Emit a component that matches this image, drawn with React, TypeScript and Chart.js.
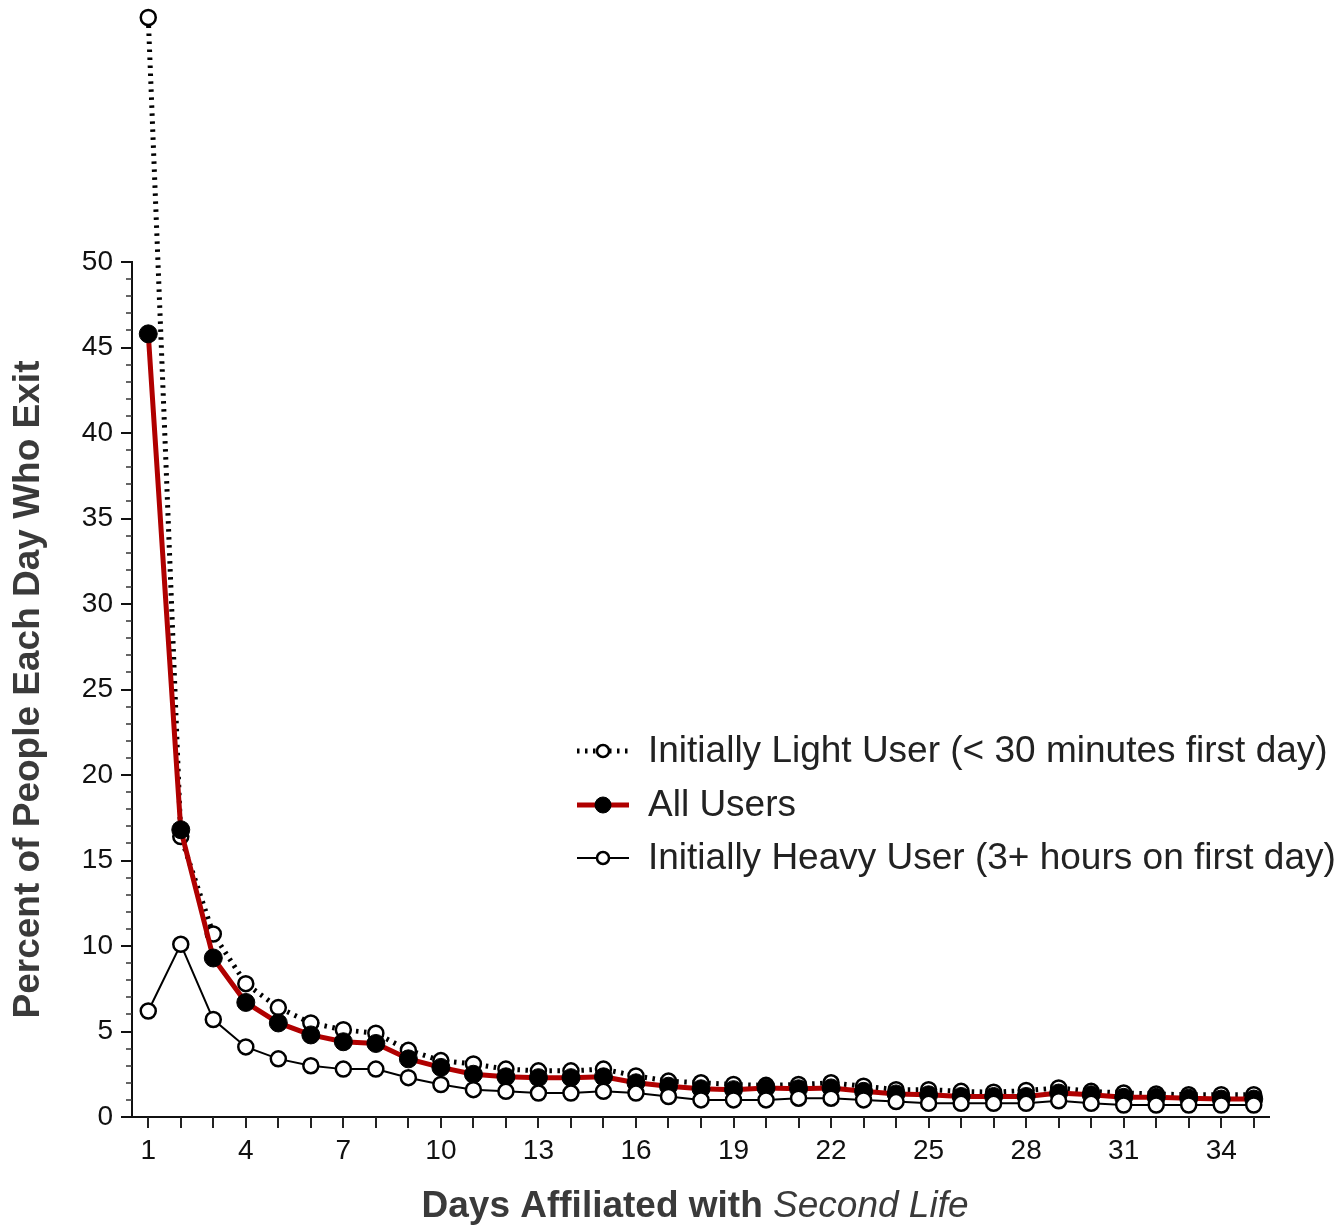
import { useEffect, useRef } from "react";
import { Chart, registerables } from "chart.js";

Chart.register(...registerables);

const FONT = '"Liberation Sans", Arial, Helvetica, sans-serif';

const days = [
  "1", "2", "3", "4", "5", "6", "7", "8", "9", "10",
  "11", "12", "13", "14", "15", "16", "17", "18", "19", "20",
  "21", "22", "23", "24", "25", "26", "27", "28", "29", "30",
  "31", "32", "33", "34", "35",
];

const xTickLabels = ["1", "4", "7", "10", "13", "16", "19", "22", "25", "28", "31", "34"];
const yTickLabels = [0, 5, 10, 15, 20, 25, 30, 35, 40, 45, 50];

const lightUser = [
  64.3, 16.4, 10.7, 7.8, 6.4, 5.5, 5.1, 4.9, 3.9, 3.3,
  3.1, 2.8, 2.7, 2.7, 2.8, 2.4, 2.1, 2.0, 1.9, 1.85,
  1.9, 2.0, 1.8, 1.6, 1.6, 1.5, 1.45, 1.55, 1.7, 1.5,
  1.4, 1.35, 1.3, 1.3, 1.3,
];

const allUsers = [
  45.8, 16.8, 9.3, 6.7, 5.5, 4.8, 4.4, 4.3, 3.4, 2.9,
  2.5, 2.35, 2.3, 2.3, 2.35, 2.0, 1.8, 1.65, 1.6, 1.7,
  1.65, 1.7, 1.5, 1.35, 1.3, 1.2, 1.2, 1.2, 1.4, 1.3,
  1.15, 1.15, 1.1, 1.05, 1.05,
];

const heavyUser = [
  6.2, 10.1, 5.7, 4.1, 3.4, 3.0, 2.8, 2.8, 2.3, 1.9,
  1.6, 1.5, 1.4, 1.4, 1.5, 1.4, 1.2, 1.0, 1.0, 1.0,
  1.1, 1.1, 1.0, 0.9, 0.8, 0.8, 0.8, 0.8, 0.95, 0.8,
  0.7, 0.7, 0.7, 0.7, 0.7,
];

const seriesLabels = [
  "Initially Light User (< 30 minutes first day)",
  "All Users",
  "Initially Heavy User (3+ hours on first day)",
];

const yTitle = "Percent of People Each Day Who Exit";
const xTitleBold = "Days Affiliated with ";
const xTitleItalic = "Second Life";

const decor = {
  id: "decor",
  beforeDatasetsDraw(chart: any) {
    const { ctx, chartArea } = chart;
    const { left, right, bottom } = chartArea;
    const xs = chart.scales.x;
    const ys = chart.scales.y;
    const maxV = yTickLabels[yTickLabels.length - 1];
    const yTop = ys.getPixelForValue(maxV);
    ctx.save();
    ctx.strokeStyle = "#111";
    ctx.lineWidth = 2;
    ctx.beginPath();
    ctx.moveTo(left, yTop - 1);
    ctx.lineTo(left, bottom + 1);
    ctx.stroke();
    ctx.beginPath();
    ctx.moveTo(left - 1, bottom);
    ctx.lineTo(right, bottom);
    ctx.stroke();
    for (let v = 0; v <= maxV; v++) {
      const py = Math.round(ys.getPixelForValue(v));
      const major = v % 5 === 0;
      ctx.lineWidth = major ? 2 : 1.5;
      ctx.strokeStyle = major ? "#111" : "#333";
      ctx.beginPath();
      ctx.moveTo(left - (major ? 11 : 6), py);
      ctx.lineTo(left, py);
      ctx.stroke();
    }
    ctx.strokeStyle = "#222";
    ctx.lineWidth = 2;
    days.forEach((_, i) => {
      const px = Math.round(xs.getPixelForValue(i));
      ctx.beginPath();
      ctx.moveTo(px, bottom);
      ctx.lineTo(px, bottom + 11);
      ctx.stroke();
    });
    ctx.restore();
  },
  afterDraw(chart: any) {
    const { ctx, chartArea } = chart;
    const ys = chart.scales.y;
    ctx.save();
    const yMid = (ys.getPixelForValue(0) + ys.getPixelForValue(50)) / 2;
    ctx.translate(29, yMid);
    ctx.rotate(-Math.PI / 2);
    ctx.font = `bold 37px ${FONT}`;
    ctx.fillStyle = "#3a3a3a";
    ctx.textAlign = "center";
    ctx.textBaseline = "middle";
    ctx.fillText(yTitle, 0, 0);
    ctx.restore();

    ctx.save();
    ctx.fillStyle = "#3a3a3a";
    ctx.textBaseline = "middle";
    ctx.textAlign = "left";
    ctx.font = `bold 37px ${FONT}`;
    const wb = ctx.measureText(xTitleBold).width;
    ctx.font = `italic 37px ${FONT}`;
    const wi = ctx.measureText(xTitleItalic).width;
    const cx = (chartArea.left + chartArea.right) / 2 - 6;
    const sx = cx - (wb + wi) / 2;
    const ty = 1207;
    ctx.font = `bold 37px ${FONT}`;
    ctx.fillText(xTitleBold, sx, ty);
    ctx.font = `italic 37px ${FONT}`;
    ctx.fillText(xTitleItalic, sx + wb, ty);
    ctx.restore();

    const rows = [751, 805, 858];
    const legendRadius = [6, 8, 6];
    chart.data.datasets.forEach((ds: any, i: number) => {
      const ry = rows[i];
      ctx.save();
      ctx.strokeStyle = ds.borderColor;
      ctx.lineWidth = ds.borderWidth;
      ctx.setLineDash(ds.borderDash || []);
      ctx.beginPath();
      ctx.moveTo(577, ry);
      ctx.lineTo(629, ry);
      ctx.stroke();
      ctx.setLineDash([]);
      ctx.beginPath();
      ctx.arc(603, ry, legendRadius[i], 0, Math.PI * 2);
      ctx.fillStyle = ds.pointBackgroundColor;
      ctx.fill();
      ctx.lineWidth = ds.pointBorderWidth;
      ctx.strokeStyle = ds.pointBorderColor;
      ctx.stroke();
      ctx.fillStyle = "#222";
      ctx.font = `37px ${FONT}`;
      ctx.textAlign = "left";
      ctx.textBaseline = "middle";
      ctx.fillText(ds.label, 648, ry + 1);
      ctx.restore();
    });
  },
};

export default function App() {
  const ref = useRef<HTMLCanvasElement | null>(null);
  useEffect(() => {
    if (!ref.current) return;
    const chart = new Chart(ref.current, {
      type: "line",
      data: {
        labels: days,
        datasets: [
          {
            label: seriesLabels[0],
            data: lightUser,
            borderColor: "#000",
            borderWidth: 5,
            borderDash: [2.5, 5.5],
            pointRadius: 7.5,
            pointBorderWidth: 2.5,
            pointBackgroundColor: "#fff",
            pointBorderColor: "#000",
            order: 2,
            tension: 0,
            clip: false,
          } as any,
          {
            label: seriesLabels[1],
            data: allUsers,
            borderColor: "#b00000",
            borderWidth: 5,
            borderJoinStyle: "round",
            pointRadius: 9,
            pointBorderWidth: 1,
            pointBackgroundColor: "#000",
            pointBorderColor: "#000",
            order: 1,
            tension: 0,
            clip: false,
          } as any,
          {
            label: seriesLabels[2],
            data: heavyUser,
            borderColor: "#000",
            borderWidth: 2,
            pointRadius: 7.5,
            pointBorderWidth: 2.5,
            pointBackgroundColor: "#fff",
            pointBorderColor: "#000",
            order: 0,
            tension: 0,
            clip: false,
          } as any,
        ],
      },
      options: {
        responsive: false,
        animation: false,
        layout: { padding: { top: 10, right: 69, left: 0, bottom: 0 } },
        plugins: { legend: { display: false }, tooltip: { enabled: false } },
        scales: {
          x: {
            type: "category",
            offset: true,
            grid: { display: false, drawTicks: false },
            border: { display: false },
            ticks: {
              autoSkip: false,
              maxRotation: 0,
              minRotation: 0,
              padding: 17,
              color: "#111",
              font: { size: 28, family: FONT },
              callback: (_v: any, i: number) => (xTickLabels.includes(days[i]) ? days[i] : ""),
            },
            afterFit: (s: any) => {
              s.height = 112;
              s.paddingLeft = 0;
              s.paddingRight = 0;
            },
          },
          y: {
            min: 0,
            max: 64.74,
            afterBuildTicks: (s: any) => {
              s.ticks = yTickLabels.map((v) => ({ value: v }));
            },
            grid: { display: false, drawTicks: false },
            border: { display: false },
            ticks: {
              padding: 19,
              color: "#111",
              font: { size: 28, family: FONT },
            },
            afterFit: (s: any) => {
              s.width = 132;
              s.paddingTop = 0;
              s.paddingBottom = 0;
            },
          },
        },
      },
      plugins: [decor],
    });
    return () => chart.destroy();
  }, []);
  return (
    <canvas
      ref={ref}
      width={1339}
      height={1229}
      style={{ position: "absolute", left: 0, top: 0, width: 1339, height: 1229 }}
    />
  );
}
